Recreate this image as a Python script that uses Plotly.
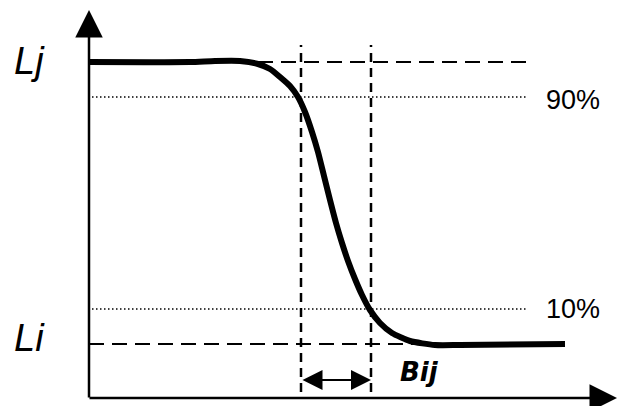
import plotly.graph_objects as go

# Schematic drawn in a 620 x 406 unit space (y measured upward)

# ── Transition curve ─────────────────────────────────────────────────────────
CURVE_X = [89, 190, 215, 240, 258, 270, 280, 290, 298, 305, 312, 318, 324,
           330, 336, 342, 348, 355, 362, 370, 380, 392, 410, 435, 460, 565]
CURVE_Y = [344, 344, 345, 345, 342, 337, 329, 320, 309, 294, 274, 254, 230,
           206, 183, 163, 145, 127, 111, 96, 83, 73, 65, 61, 61, 62]

# ── Reference levels ─────────────────────────────────────────────────────────
LEVEL_J = 344
LEVEL_I = 62
LEVEL_90 = 309
LEVEL_10 = 97
LEVEL_LABELS = ["L<i>j</i>", "L<i>i</i>"]
PCT_LABELS = ["90%", "10%"]

# ── Transition band ──────────────────────────────────────────────────────────
BAND_X = [301, 371]
BAND_LABEL = "Bij"

# ── Axes ─────────────────────────────────────────────────────────────────────
ORIGIN = (89, 8)
AXIS_END_X = 617
AXIS_END_Y = 396

fig = go.Figure()

fig.add_trace(go.Scatter(
    x=CURVE_X, y=CURVE_Y,
    mode="lines",
    line=dict(color="black", width=6, shape="spline", smoothing=0.6),
    hoverinfo="skip",
    showlegend=False,
))

shapes = []
# dashed level lines
shapes.append(dict(type="line", x0=258, x1=530, y0=LEVEL_J, y1=LEVEL_J,
                   line=dict(color="black", width=2, dash="15px,8px")))
shapes.append(dict(type="line", x0=89, x1=530, y0=LEVEL_I, y1=LEVEL_I,
                   line=dict(color="black", width=2, dash="15px,8px")))
# dotted percentage lines
for lv in (LEVEL_90, LEVEL_10):
    shapes.append(dict(type="line", x0=92, x1=527, y0=lv, y1=lv,
                       line=dict(color="black", width=1.5, dash="1.5px,2.5px")))
# vertical band lines
for bx in BAND_X:
    shapes.append(dict(type="line", x0=bx, x1=bx, y0=14, y1=361,
                       line=dict(color="black", width=2.5, dash="9px,6px")))

annotations = []
# axes with arrowheads
annotations.append(dict(x=ORIGIN[0], y=AXIS_END_Y, ax=ORIGIN[0], ay=ORIGIN[1] - 1,
                        xref="x", yref="y", axref="x", ayref="y", text="",
                        showarrow=True, arrowhead=2, arrowsize=2.2,
                        arrowwidth=2.5, arrowcolor="black"))
annotations.append(dict(x=AXIS_END_X, y=ORIGIN[1], ax=ORIGIN[0] - 1, ay=ORIGIN[1],
                        xref="x", yref="y", axref="x", ayref="y", text="",
                        showarrow=True, arrowhead=2, arrowsize=2.2,
                        arrowwidth=2.5, arrowcolor="black"))
# double-headed arrow across the band
annotations.append(dict(x=BAND_X[1], y=26, ax=BAND_X[0], ay=26,
                        xref="x", yref="y", axref="x", ayref="y", text="",
                        showarrow=True, arrowhead=2, startarrowhead=2,
                        arrowside="end+start", arrowsize=2, startarrowsize=2,
                        arrowwidth=2, arrowcolor="black"))
annotations.append(dict(x=419, y=34, xref="x", yref="y", text=f"<b><i>{BAND_LABEL}</i></b>",
                        showarrow=False,
                        font=dict(family="DejaVu Sans", size=26, color="black")))
# level labels
for lbl, lv, dy in zip(LEVEL_LABELS, (LEVEL_J, LEVEL_I), (1, 6)):
    annotations.append(dict(x=29, y=lv + dy, xref="x", yref="y", text=lbl,
                            showarrow=False,
                            font=dict(family="Liberation Sans", size=38, color="black",
                                      style="italic")))
# percentage labels
for lbl, lv in zip(PCT_LABELS, (LEVEL_90, LEVEL_10)):
    annotations.append(dict(x=573, y=lv - 3 if lv == LEVEL_90 else lv, xref="x", yref="y",
                            text=lbl, showarrow=False,
                            font=dict(family="Liberation Sans", size=27, color="black")))

fig.update_layout(
    width=620, height=406,
    margin=dict(l=0, r=0, t=0, b=0),
    paper_bgcolor="white",
    plot_bgcolor="white",
    shapes=shapes,
    annotations=annotations,
    xaxis=dict(range=[0, 620], visible=False, fixedrange=True),
    yaxis=dict(range=[0, 406], visible=False, fixedrange=True),
    showlegend=False,
)

# drop the default page margin so the figure sits at the window's corner
fig.write_html("out.html", config={"displayModeBar": False},
               post_script="document.body.style.margin='0';")
